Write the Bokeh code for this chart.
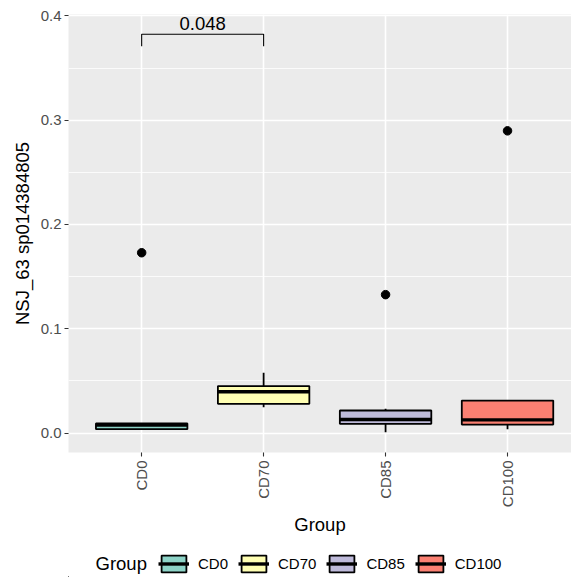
import math
from bokeh.plotting import figure
from bokeh.layouts import column
from bokeh.models import (Range1d, FixedTicker, ColumnDataSource, Legend, LegendItem,
                          Label, NumeralTickFormatter)
from bokeh.core.properties import value
from bokeh.embed import file_html
from bokeh.resources import INLINE

FONT = "Liberation Sans"

# ---- data ----
groups = ["CD0", "CD70", "CD85", "CD100"]
colors = ["#8DD3C7", "#FFFFB3", "#BEBADA", "#FB8072"]
q1 = [0.0037, 0.0280, 0.0088, 0.0081]
median = [0.0076, 0.0395, 0.0129, 0.0126]
q3 = [0.0091, 0.0450, 0.0216, 0.0311]
whisker_low = [0.0037, 0.0247, 0.0008, 0.0036]
whisker_high = [0.0095, 0.0577, 0.0232, 0.0311]
outlier_group = ["CD0", "CD85", "CD100"]
outlier_value = [0.1729, 0.1327, 0.2898]
compare_pair = ["CD0", "CD70"]
compare_label = ["0.048"]
bracket_top = 0.3825
bracket_tip = 0.3710
y_ticks = [0.0, 0.1, 0.2, 0.3, 0.4]
y_minor = [0.05, 0.15, 0.25, 0.35]

pos = list(range(1, len(groups) + 1))
BW = 0.75

src = ColumnDataSource(dict(x=pos, q1=q1, med=median, q3=q3, lo=whisker_low, hi=whisker_high,
                            left=[v - BW / 2 for v in pos], right=[v + BW / 2 for v in pos],
                            color=colors, group=groups))

W, H, HL = 571, 577, 32

p = figure(width=W, height=H - HL, output_backend="svg", toolbar_location=None,
           x_range=Range1d(0.4, 4.5246), y_range=Range1d(-0.0187, 0.4014),
           min_border_left=68, min_border_right=0, min_border_top=14, min_border_bottom=93,
           background_fill_color="#EBEBEB", border_fill_color="white", outline_line_color=None)

# axes
p.xaxis.ticker = FixedTicker(ticks=pos)
p.xaxis.major_label_overrides = {v: g for v, g in zip(pos, groups)}
p.xaxis.major_label_orientation = math.pi / 2
p.yaxis.ticker = FixedTicker(ticks=y_ticks, minor_ticks=y_minor)
p.yaxis.formatter = NumeralTickFormatter(format="0.0")
for ax in (p.xaxis[0], p.yaxis[0]):
    ax.axis_line_color = None
    ax.major_tick_line_color = "#333333"
    ax.major_tick_line_width = 1.1
    ax.major_tick_out = 4
    ax.major_tick_in = 0
    ax.minor_tick_line_color = None
    ax.major_label_text_font = FONT
    ax.major_label_text_font_size = "15px"
    ax.major_label_text_color = "#4D4D4D"
    ax.axis_label_text_font = FONT
    ax.axis_label_text_font_size = "18.5px"
    ax.axis_label_text_font_style = "normal"
    ax.axis_label_text_color = "black"
p.xaxis.major_label_standoff = 4
p.yaxis.major_label_standoff = 3
p.xaxis.axis_label = "Group"
p.yaxis.axis_label = "NSJ_63 sp014384805"
p.xaxis.axis_label_standoff = 4
p.yaxis.axis_label_standoff = 5

# grid
p.xgrid.ticker = FixedTicker(ticks=pos)
p.xgrid.grid_line_color = "white"
p.xgrid.grid_line_width = 1.6
p.ygrid.ticker = FixedTicker(ticks=y_ticks, minor_ticks=y_minor)
p.ygrid.grid_line_color = "white"
p.ygrid.grid_line_width = 1.6
p.ygrid.minor_grid_line_color = "white"
p.ygrid.minor_grid_line_width = 0.8


def draw_boxes(fig):
    fig.segment(x0="x", y0="q3", x1="x", y1="hi", source=src, line_color="black", line_width=1.8)
    fig.segment(x0="x", y0="q1", x1="x", y1="lo", source=src, line_color="black", line_width=1.8)
    b = fig.vbar(x="x", width=BW, top="q3", bottom="q1", source=src, fill_color="color",
                 line_color="black", line_width=1.8)
    m = fig.segment(x0="left", y0="med", x1="right", y1="med", source=src,
                    line_color="black", line_width=3.4)
    return b, m


draw_boxes(p)
# outliers
ox = [pos[groups.index(g)] for g in outlier_group]
p.scatter(x=ox, y=outlier_value, size=8.5, color="black")

# significance bracket
i0 = pos[groups.index(compare_pair[0])]
i1 = pos[groups.index(compare_pair[1])]
p.line(x=[i0, i0, i1, i1], y=[bracket_tip, bracket_top, bracket_top, bracket_tip],
       line_color="black", line_width=1.1)
p.text(x=[(i0 + i1) / 2], y=[bracket_top], text=compare_label, text_align="center",
       text_baseline="bottom", y_offset=-4, text_font=value(FONT), text_font_size="18.5px",
       text_color="black")

# legend strip (its own figure; renderers there lie outside its ranges, only the keys show)
pl = figure(width=W, height=HL, output_backend="svg", toolbar_location=None,
            x_range=Range1d(100, 101), y_range=Range1d(100, 101), min_border=0,
            x_axis_location=None, y_axis_location=None, outline_line_color=None,
            background_fill_color="white", border_fill_color="white")
pl.grid.visible = False
box_r, med_r = draw_boxes(pl)
legend = Legend(items=[LegendItem(label=g, renderers=[box_r, med_r], index=i)
                       for i, g in enumerate(groups)],
                orientation="horizontal", location=(90, 3.5), padding=0, margin=0,
                spacing=10, label_standoff=9, glyph_width=31, glyph_height=21,
                label_height=21, border_line_color=None, background_fill_alpha=0,
                label_text_font=FONT, label_text_font_size="15px", label_text_color="black")
pl.add_layout(legend, "center")
pl.add_layout(Label(x=27, y=14, x_units="screen", y_units="screen", text="Group",
                    text_align="left", text_baseline="middle", text_font=FONT,
                    text_font_size="18.5px", text_color="black"))

open("out.html", "w").write(file_html(column(p, pl, spacing=0), INLINE))
